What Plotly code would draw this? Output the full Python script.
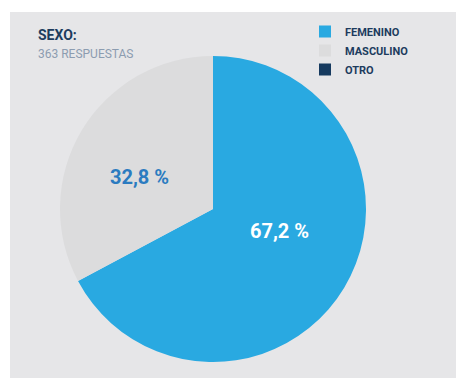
import plotly.graph_objects as go

# Survey data: respondents by sex
categorias = ["FEMENINO", "MASCULINO", "OTRO"]
porcentajes = [67.2, 32.8, 0.0]
colores = ["#29a9e1", "#dcdcdd", "#163a5f"]
colores_texto = ["#ffffff", "#2b7bc0", "#ffffff"]
titulo = "SEXO:"
subtitulo = "363 RESPUESTAS"

W, H = 457, 379
FONT = "Roboto, DejaVu Sans, sans-serif"


def px(x, y):
    """Pixel position on the canvas -> paper coordinates."""
    return x / W, 1 - y / H


def fmt(v):
    return f"{v:.1f} %".replace(".", ",")


# value label anchor points inside each slice (canvas pixels)
pos_etiquetas = {"FEMENINO": (279, 231), "MASCULINO": (139, 177)}

fig = go.Figure(
    go.Pie(
        labels=categorias,
        values=porcentajes,
        textinfo="none",
        sort=False,
        direction="clockwise",
        rotation=0,
        marker=dict(colors=colores, line=dict(width=0)),
        domain=dict(x=[60 / W, 366 / W], y=[1 - 362 / H, 1 - 56 / H]),
        hoverinfo="label+percent",
    )
)

anots = [
    dict(
        text=titulo, xref="paper", yref="paper",
        x=px(36, 35)[0], y=px(36, 35)[1], xanchor="left", yanchor="middle",
        showarrow=False,
        font=dict(family=FONT, size=14, color="#1d3c5e", weight="bold"),
    ),
    dict(
        text=subtitulo, xref="paper", yref="paper",
        x=px(36, 54)[0], y=px(36, 54)[1], xanchor="left", yanchor="middle",
        showarrow=False,
        font=dict(family=FONT, size=12, color="#8c9cb0"),
    ),
]
for cat, val, col in zip(categorias, porcentajes, colores_texto):
    if val <= 0:
        continue
    x, y = px(*pos_etiquetas[cat])
    anots.append(dict(
        text=fmt(val), xref="paper", yref="paper", x=x, y=y,
        xanchor="center", yanchor="middle", showarrow=False,
        font=dict(family=FONT, size=20, color=col, weight="bold"),
    ))

fig.update_layout(
    width=W,
    height=H,
    margin=dict(l=0, r=0, t=0, b=0),
    paper_bgcolor="#ffffff",
    plot_bgcolor="#ffffff",
    showlegend=True,
    legend=dict(
        x=305 / W,
        y=1 - 17 / H,
        xanchor="left",
        yanchor="top",
        bgcolor="rgba(0,0,0,0)",
        font=dict(family=FONT, size=11, color="#1d3c5e", weight="bold"),
        itemsizing="constant",
        tracegroupgap=0,
    ),
    shapes=[
        dict(
            type="rect", xref="paper", yref="paper",
            x0=10 / W, x1=456 / W, y0=1 - 378 / H, y1=1 - 12 / H,
            fillcolor="#e6e6e8", line=dict(width=0), layer="below",
        )
    ],
    annotations=anots,
)

fig.write_html("out.html")
